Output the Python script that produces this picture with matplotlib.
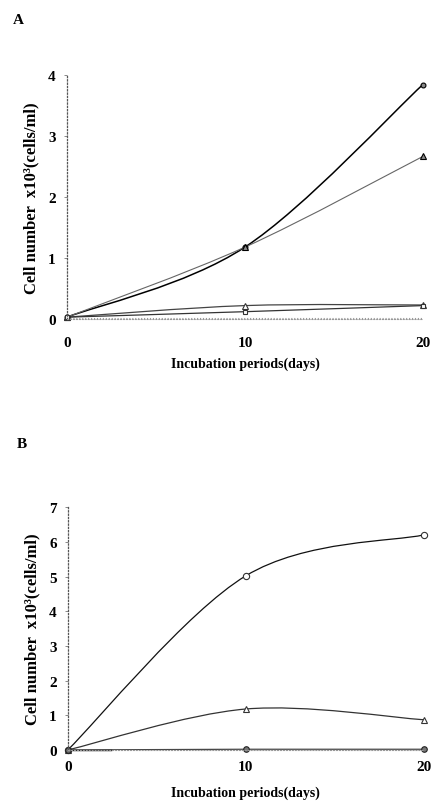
import numpy as np
import matplotlib
matplotlib.use("Agg")
import matplotlib.pyplot as plt
from matplotlib.path import Path
from matplotlib.patches import PathPatch

plt.rcParams['font.family'] = ['Liberation Serif', 'DejaVu Serif']
plt.rcParams['font.weight'] = 'bold'

days = [0, 10, 20]

# panel A
a_circle_top = [0.03, 1.18, 3.85]
a_tri_top = [0.03, 1.18, 2.67]
a_tri_low = [0.03, 0.22, 0.23]
a_circle_low = [0.03, 0.12, 0.22]
a_base = [0.01, 0.01, 0.01]

# panel B
b_circle_top = [0.0, 5.02, 6.2]
b_tri = [0.0, 1.18, 0.87]
b_circle_low = [0.0, 0.02, 0.02]
b_short_x = [0, 2.4]
b_short_y = [0.0, 0.0]


def smooth(ax, x, y, color, lw, ls='-'):
    # excel-like smoothed line (catmull-rom as bezier)
    pts = np.column_stack([x, y]).astype(float)
    n = len(pts)
    verts = [pts[0]]
    codes = [Path.MOVETO]
    for i in range(n - 1):
        p0 = pts[i - 1] if i > 0 else pts[i]
        p1 = pts[i]
        p2 = pts[i + 1]
        p3 = pts[i + 2] if i + 2 < n else pts[i + 1]
        c1 = p1 + (p2 - p0) / 6.0
        c2 = p2 - (p3 - p1) / 6.0
        verts += [c1, c2, p2]
        codes += [Path.CURVE4] * 3
    patch = PathPatch(Path(verts, codes), fill=False, edgecolor=color,
                      lw=lw, ls=ls, clip_on=False)
    ax.add_patch(patch)


def style(ax, ymax, xpad, xlpad):
    ax.set_xlim(0, 20)
    ax.set_ylim(0, ymax)
    ax.set_xticks([0, 10, 20])
    ax.set_yticks(range(0, ymax + 1))
    for s in ['top', 'right']:
        ax.spines[s].set_visible(False)
    ax.spines['left'].set_linestyle(':')
    ax.spines['left'].set_color('#555555')
    ax.spines['left'].set_linewidth(0.9)
    ax.spines['bottom'].set_linestyle(':')
    ax.spines['bottom'].set_color('#999999')
    ax.spines['bottom'].set_linewidth(0.8)
    ax.tick_params(axis='y', length=2, width=0.6, color='#777777',
                   labelsize=11, pad=6)
    ax.tick_params(axis='x', length=0, labelsize=11, pad=xpad)
    ax.set_ylabel('Cell number  x10³(cells/ml)', fontsize=12,
                  fontweight='bold', labelpad=6)
    ax.set_xlabel('Incubation periods(days)', fontsize=10,
                  fontweight='bold', labelpad=xlpad)


fig = plt.figure(figsize=(4.32, 8.04), dpi=100)

axA = fig.add_axes([0.155, 0.602, 0.824, 0.303])
smooth(axA, days, a_circle_top, 'black', 1.1)
smooth(axA, days, a_tri_top, '#666666', 0.8)
smooth(axA, days, a_tri_low, '#444444', 0.9)
smooth(axA, days, a_circle_low, '#333333', 0.9)
axA.plot(days, a_base, color='#999999', lw=0.8, ls=':')
axA.plot(days, a_circle_top, 'o', ms=3.5, mfc='#888888', mec='black', mew=0.8, clip_on=False)
axA.plot(days, a_tri_top, '^', ms=4, mfc='#888888', mec='black', mew=0.8, clip_on=False)
axA.plot(days, a_tri_low, '^', ms=4, mfc='white', mec='#333333', mew=0.8, clip_on=False)
axA.plot(days, a_circle_low, 's', ms=3.5, mfc='white', mec='#333333', mew=0.8, clip_on=False)
style(axA, 4, 12, 6)
fig.text(0.03, 0.975, 'A', fontsize=11, fontweight='bold', va='center')

axB = fig.add_axes([0.157, 0.066, 0.824, 0.302])
smooth(axB, days, b_circle_top, '#111111', 0.9)
smooth(axB, days, b_tri, '#333333', 0.9)
axB.plot(days, b_circle_low, color='#444444', lw=0.9)
axB.plot(b_short_x, b_short_y, color='black', lw=1.0, clip_on=False)
axB.plot(days, b_circle_top, 'o', ms=4.5, mfc='white', mec='#333333', mew=0.8, clip_on=False)
axB.plot(days, b_tri, '^', ms=4.5, mfc='white', mec='#333333', mew=0.8, clip_on=False)
axB.plot(days, b_circle_low, 'o', ms=4, mfc='#777777', mec='#222222', mew=0.8, clip_on=False)
style(axB, 7, 7, 9)
fig.text(0.04, 0.447, 'B', fontsize=11, fontweight='bold', va='center')

fig.savefig('out.png', dpi=100)
